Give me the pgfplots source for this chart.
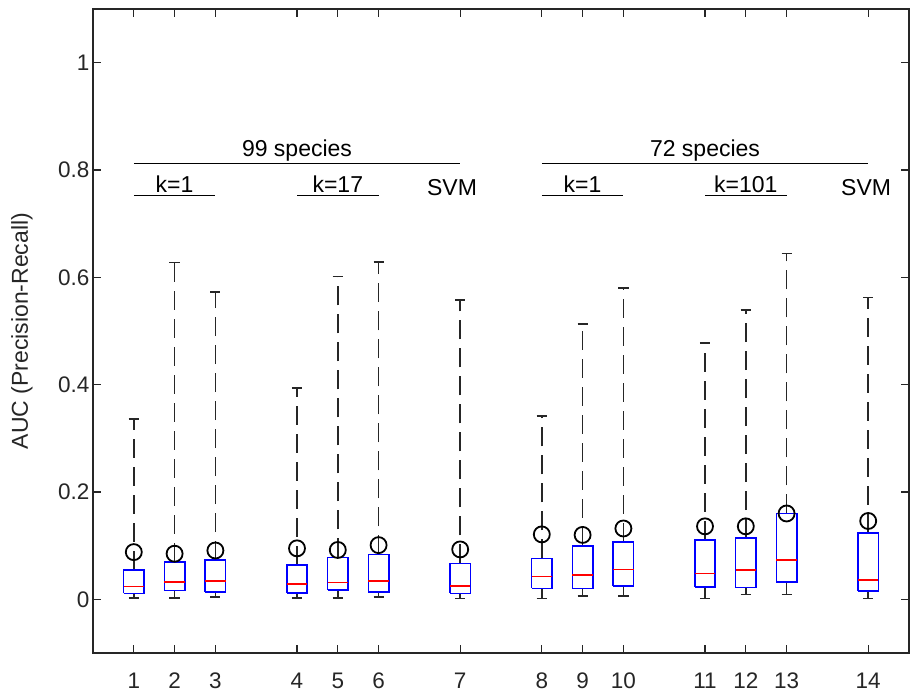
\documentclass[border=0pt]{standalone}
\usepackage{fontspec}
\setmainfont{Liberation Sans}
\usepackage{pgfplots}
\pgfplotsset{compat=1.18}
\definecolor{axgray}{RGB}{38,38,38}
\definecolor{mblue}{RGB}{0,0,255}
\definecolor{mred}{RGB}{255,0,0}

% one matlab-style box: pos, lower whisker, q1, median, q3, upper whisker, mean
\newcommand{\bx}[7]{%
  \pgfmathsetmacro\xl{#1-0.25}\pgfmathsetmacro\xr{#1+0.25}%
  \pgfmathsetmacro\capl{#1-0.125}\pgfmathsetmacro\capr{#1+0.125}%
  \addplot[axgray, line width=1.5pt, dash pattern=on 19pt off 9pt] coordinates {(#1,#5) (#1,#6)};
  \addplot[axgray, line width=1.5pt] coordinates {(\capl,#6) (\capr,#6)};
  \addplot[axgray, line width=1.5pt] coordinates {(#1,#3) (#1,#2)};
  \addplot[axgray, line width=1.5pt] coordinates {(\capl,#2) (\capr,#2)};
  \addplot[mblue, line width=1.5pt, line join=miter] coordinates {(\xl,#3) (\xr,#3) (\xr,#5) (\xl,#5) (\xl,#3)};
  \addplot[mred, line width=1.5pt] coordinates {(\xl,#4) (\xr,#4)};
  \addplot[black, line width=1.8pt, only marks, mark=o, mark size=8pt] coordinates {(#1,#7)};
}

\begin{document}
\begin{tikzpicture}
\useasboundingbox (-93pt,-43pt) rectangle (817pt,653pt);
\begin{axis}[
    scale only axis,
    width=816pt, height=644pt,
    xmin=0, xmax=20,
    ymin=-0.1, ymax=1.1,
    xtick={1,2,3,5,6,7,9,11,12,13,15,16,17,19},
    xticklabels={1,2,3,4,5,6,7,8,9,10,11,12,13,14},
    ytick={0,0.2,0.4,0.6,0.8,1},
    tick align=inside,
    major tick length=8pt,
    axis line style={axgray, line width=1.1pt},
    every tick/.style={axgray, line width=1.1pt},
    /pgf/number format/assume math mode=true,
    tick label style={font=\fontsize{22.5}{26}\selectfont, text=axgray},
    xticklabel style={yshift=-16pt},
    ylabel={AUC (Precision-Recall)},
    ylabel style={font=\fontsize{23}{27}\selectfont, text=axgray,
      at={(axis description cs:-0.087,0.5)}, anchor=center},
    clip=false,
  ]
  \bx{1}{0.0025}{0.011}{0.024}{0.055}{0.336}{0.088}
  \bx{2}{0.0025}{0.016}{0.032}{0.070}{0.628}{0.085}
  \bx{3}{0.004}{0.014}{0.034}{0.073}{0.573}{0.091}
  \bx{5}{0.0025}{0.012}{0.029}{0.064}{0.394}{0.095}
  \bx{6}{0.0025}{0.017}{0.031}{0.078}{0.602}{0.092}
  \bx{7}{0.004}{0.014}{0.034}{0.084}{0.629}{0.101}
  \bx{9}{0.002}{0.011}{0.025}{0.067}{0.558}{0.093}
  \bx{11}{0.002}{0.0205}{0.043}{0.0765}{0.342}{0.121}
  \bx{12}{0.006}{0.0205}{0.045}{0.0995}{0.513}{0.120}
  \bx{13}{0.006}{0.025}{0.056}{0.107}{0.580}{0.132}
  \bx{15}{0.002}{0.023}{0.048}{0.111}{0.478}{0.136}
  \bx{16}{0.009}{0.022}{0.055}{0.114}{0.539}{0.136}
  \bx{17}{0.009}{0.032}{0.0735}{0.160}{0.644}{0.160}
  \bx{19}{0.002}{0.0155}{0.036}{0.124}{0.562}{0.146}

  % group brackets
  \addplot[black, line width=1.3pt] coordinates {(1,0.812) (9,0.812)};
  \addplot[black, line width=1.3pt] coordinates {(1,0.752) (3,0.752)};
  \addplot[black, line width=1.3pt] coordinates {(5,0.752) (7,0.752)};
  \addplot[black, line width=1.3pt] coordinates {(11,0.812) (19,0.812)};
  \addplot[black, line width=1.3pt] coordinates {(11,0.752) (13,0.752)};
  \addplot[black, line width=1.3pt] coordinates {(15,0.752) (17,0.752)};

  \begin{scope}[every node/.style={font=\fontsize{23}{27}\selectfont, inner sep=0pt}]
    \node at (axis cs:5,0.836) {99 species};
    \node at (axis cs:2,0.774) {k=1};
    \node at (axis cs:6,0.774) {k=17};
    \node at (axis cs:8.8,0.767) {SVM};
    \node at (axis cs:15,0.836) {72 species};
    \node at (axis cs:12,0.774) {k=1};
    \node at (axis cs:16,0.774) {k=101};
    \node at (axis cs:18.95,0.767) {SVM};
  \end{scope}
\end{axis}
\end{tikzpicture}
\end{document}
